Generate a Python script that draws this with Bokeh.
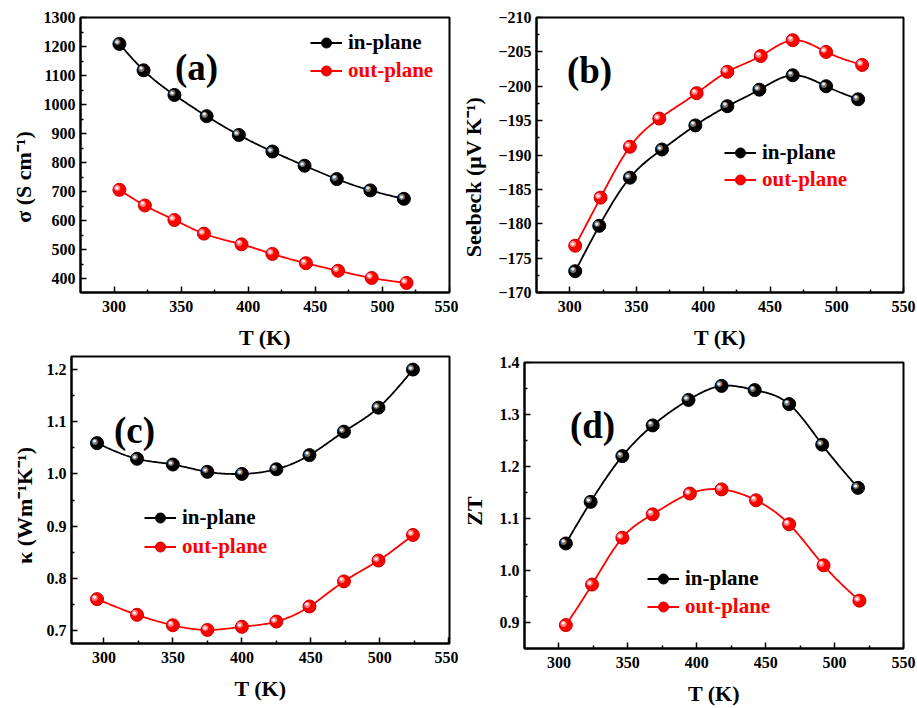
import numpy as np
from bokeh.plotting import figure
from bokeh.layouts import column, row
from bokeh.models import (Range1d, FixedTicker, Legend, LegendItem, Label,
                          PrintfTickFormatter)
from bokeh.core.properties import value
from bokeh.embed import file_html
from bokeh.resources import INLINE

# ---------------- data ----------------
# (a) electrical conductivity
T_a_in = [304, 322, 345, 369, 393, 418, 442, 466, 491, 516]
sigma_in = [1209, 1118, 1033, 960, 895, 838, 789, 743, 704, 675]
T_a_out = [304, 323, 345, 367, 395, 418, 443, 467, 492, 518]
sigma_out = [706, 652, 602, 555, 518, 485, 453, 427, 402, 385]

# (b) Seebeck coefficient
T_b_in = [304, 322, 345, 369, 394, 418, 442, 467, 492, 516]
seebeck_in = [-173.1, -179.7, -186.7, -190.8, -194.3, -197.1, -199.5, -201.6, -200.0, -198.1]
T_b_out = [304, 323, 345, 367, 395, 418, 443, 467, 492, 519]
seebeck_out = [-176.8, -183.8, -191.2, -195.3, -199.0, -202.1, -204.4, -206.7, -205.0, -203.1]

# (c) thermal conductivity
T_c_in = [295, 324, 350, 375, 400, 425, 449, 474, 499, 524]
kappa_in = [1.059, 1.029, 1.018, 1.004, 1.000, 1.009, 1.036, 1.081, 1.127, 1.200]
T_c_out = [295, 324, 350, 375, 400, 425, 449, 474, 499, 524]
kappa_out = [0.760, 0.730, 0.710, 0.701, 0.707, 0.717, 0.746, 0.794, 0.834, 0.883]

# (d) ZT
T_d_in = [305, 323, 346, 368, 394, 418, 442, 467, 491, 517]
zt_in = [1.052, 1.132, 1.220, 1.279, 1.328, 1.355, 1.347, 1.320, 1.242, 1.159]
T_d_out = [305, 324, 346, 368, 395, 418, 443, 467, 492, 518]
zt_out = [0.895, 0.973, 1.063, 1.108, 1.148, 1.156, 1.135, 1.089, 1.010, 0.942]

series_labels = ["in-plane", "out-plane"]

# ticks
x_ticks = [300, 350, 400, 450, 500, 550]
x_minor = [325, 375, 425, 475, 525]
a_ticks = [400, 500, 600, 700, 800, 900, 1000, 1100, 1200, 1300]
a_minor = [450, 550, 650, 750, 850, 950, 1050, 1150, 1250]
b_ticks = [-210, -205, -200, -195, -190, -185, -180, -175, -170]
b_minor = [-207.5, -202.5, -197.5, -192.5, -187.5, -182.5, -177.5, -172.5]
c_ticks = [0.7, 0.8, 0.9, 1.0, 1.1, 1.2]
c_minor = [0.75, 0.85, 0.95, 1.05, 1.15]
d_ticks = [0.9, 1.0, 1.1, 1.2, 1.3, 1.4]
d_minor = [0.95, 1.05, 1.15, 1.25, 1.35]

SERIF = "Liberation Serif"
BLACK = "#000000"
RED = "#ff0000"
NB = "\u00a0"


def spline(x, y, n=240):
    x = np.asarray(x, float)
    y = np.asarray(y, float)
    m = len(x)
    h = np.diff(x)
    A = np.zeros((m, m))
    r = np.zeros(m)
    A[0, 0] = A[-1, -1] = 1.0
    for i in range(1, m - 1):
        A[i, i - 1] = h[i - 1]
        A[i, i] = 2 * (h[i - 1] + h[i])
        A[i, i + 1] = h[i]
        r[i] = 6 * ((y[i + 1] - y[i]) / h[i] - (y[i] - y[i - 1]) / h[i - 1])
    M = np.linalg.solve(A, r)
    xs = np.linspace(x[0], x[-1], n)
    k = np.clip(np.searchsorted(x, xs) - 1, 0, m - 2)
    x0, x1 = x[k], x[k + 1]
    hk = x1 - x0
    t0 = x1 - xs
    t1 = xs - x0
    ys = (M[k] * t0 ** 3 / (6 * hk) + M[k + 1] * t1 ** 3 / (6 * hk)
          + (y[k] / hk - M[k] * hk / 6) * t0 + (y[k + 1] / hk - M[k + 1] * hk / 6) * t1)
    return xs, ys


def make_fig(w, h, xr, yr, bl, br, bt, bb, yt, ym, fmt=None):
    p = figure(width=w, height=h, x_range=Range1d(*xr), y_range=Range1d(*yr),
               output_backend="svg", toolbar_location=None,
               min_border_left=bl, min_border_right=br,
               min_border_top=bt, min_border_bottom=bb)
    try:
        p.frame_align = False
    except Exception:
        pass
    p.xgrid.visible = False
    p.ygrid.visible = False
    p.outline_line_color = "black"
    p.outline_line_width = 2
    p.background_fill_color = "white"
    p.border_fill_color = "white"
    p.xaxis.ticker = FixedTicker(ticks=x_ticks, minor_ticks=x_minor)
    p.yaxis.ticker = FixedTicker(ticks=yt, minor_ticks=ym)
    if fmt:
        p.yaxis.formatter = PrintfTickFormatter(format=fmt)
    for ax in (p.xaxis[0], p.yaxis[0]):
        ax.axis_line_width = 2
        ax.axis_line_color = "black"
        ax.major_tick_in = 6
        ax.major_tick_out = 0
        ax.minor_tick_in = 3
        ax.minor_tick_out = 0
        ax.major_tick_line_width = 1.5
        ax.minor_tick_line_width = 1.5
        ax.major_label_text_font = SERIF
        ax.major_label_text_font_style = "bold"
        ax.major_label_text_font_size = "16px"
        ax.major_label_text_color = "black"
        ax.axis_label_text_font = SERIF
        ax.axis_label_text_font_style = "bold"
        ax.axis_label_text_font_size = "22px"
        ax.axis_label_text_color = "black"
    p.xaxis.major_label_standoff = 8
    p.yaxis.major_label_standoff = 5
    p.xaxis.axis_label_standoff = 10
    p.yaxis.axis_label_standoff = 5
    p.xaxis.axis_label = "T (K)"
    return p


def add_series(p, x, y, color, hl, edge):
    xs, ys = spline(x, y)
    ln = p.line(xs, ys, line_color=color, line_width=1.8)
    sc = p.scatter(x, y, size=13, marker="circle", fill_color=color, line_color=edge,
                   line_width=1)
    p.text(x, y, text=["\u25cf"] * len(x), text_font=value("DejaVu Sans"),
           text_font_size="8px", text_color=hl, text_alpha=0.85,
           x_offset=-2, y_offset=-2, text_align="center", text_baseline="middle")
    p.text(x, y, text=["\u25cf"] * len(x), text_font=value("DejaVu Sans"),
           text_font_size="4px", text_color="white", text_alpha=0.9,
           x_offset=-2.5, y_offset=-2.5, text_align="center", text_baseline="middle")
    return ln, sc


def add_legend(p, renderers, label, color, x, y):
    leg = Legend(items=[LegendItem(label=label, renderers=renderers)],
                 location=(x, y), orientation="vertical",
                 glyph_width=32, glyph_height=25, label_height=25,
                 label_standoff=6, padding=0, margin=0, spacing=0,
                 border_line_color=None, background_fill_alpha=0,
                 label_text_font=SERIF, label_text_font_style="bold",
                 label_text_font_size="21px", label_text_color=color)
    p.add_layout(leg)


def panel_label(p, text, x, y):
    p.add_layout(Label(x=x, y=y, x_units="screen", y_units="screen", text=text,
                       text_font=SERIF, text_font_style="bold", text_font_size="37px",
                       text_align="center", text_baseline="middle", text_color="black"))


# ---------------- (a) ----------------
pa = make_fig(458, 352, (275, 550), (352, 1300), 80, 9, 17, 57, a_ticks, a_minor)
pa.yaxis.axis_label = "\u03c3 (S cm\u207b\u00b9)" + NB * 8
r1 = add_series(pa, T_a_in, sigma_in, BLACK, "#8a8a8a", "#000000")
r2 = add_series(pa, T_a_out, sigma_out, RED, "#ff9a9a", "#cc0000")
add_legend(pa, list(r1), series_labels[0], BLACK, 230, 237)
add_legend(pa, list(r2), series_labels[1], RED, 230, 209)
panel_label(pa, "(a)", 116, 225)

# ---------------- (b) ----------------
pb = make_fig(459, 352, (275, 550), (-170, -210), 78, 14, 17, 56, b_ticks, b_minor)
pb.yaxis.axis_label = "Seebeck (\u03bcV K\u207b\u00b9)" + NB * 8
pb.yaxis.axis_label_standoff = 9
r1 = add_series(pb, T_b_in, seebeck_in, BLACK, "#8a8a8a", "#000000")
r2 = add_series(pb, T_b_out, seebeck_out, RED, "#ff9a9a", "#cc0000")
add_legend(pb, list(r1), series_labels[0], BLACK, 188, 127)
add_legend(pb, list(r2), series_labels[1], RED, 188, 100)
panel_label(pb, "(b)", 53, 222)

# ---------------- (c) ----------------
pc = make_fig(458, 356, (276.5, 550.5), (0.675, 1.225), 71, 9, 4, 65, c_ticks, c_minor, "%.1f")
pc.yaxis.axis_label = "\u03ba (Wm\u207b\u00b9K\u207b\u00b9)" + NB * 2
pc.yaxis.axis_label_standoff = 7
r1 = add_series(pc, T_c_in, kappa_in, BLACK, "#8a8a8a", "#000000")
r2 = add_series(pc, T_c_out, kappa_out, RED, "#ff9a9a", "#cc0000")
add_legend(pc, list(r1), series_labels[0], BLACK, 73, 113)
add_legend(pc, list(r2), series_labels[1], RED, 73, 84)
panel_label(pc, "(c)", 63, 213)

# ---------------- (d) ----------------
pd_ = make_fig(459, 356, (275, 550), (0.85, 1.4), 63, 14, 10, 59, d_ticks, d_minor, "%.1f")
pd_.yaxis.axis_label = "ZT" + NB * 2
pd_.yaxis.axis_label_standoff = 10
r1 = add_series(pd_, T_d_in, zt_in, BLACK, "#8a8a8a", "#000000")
r2 = add_series(pd_, T_d_out, zt_out, RED, "#ff9a9a", "#cc0000")
add_legend(pd_, list(r1), series_labels[0], BLACK, 123, 57)
add_legend(pd_, list(r2), series_labels[1], RED, 123, 29)
panel_label(pd_, "(d)", 68, 223)

layout = column(row(pa, pb), row(pc, pd_))
open("out.html", "w").write(file_html(layout, INLINE))
